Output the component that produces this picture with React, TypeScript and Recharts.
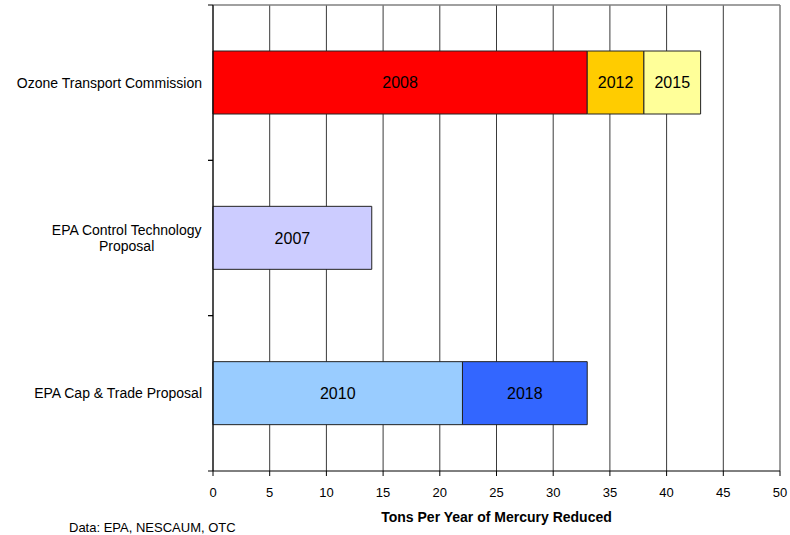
import React from 'react'
import { BarChart, Bar, XAxis, YAxis, CartesianGrid, LabelList, Cell } from 'recharts'

// programs compared, top to bottom
const programs = ['Ozone Transport Commission', 'EPA Control Technology Proposal', 'EPA Cap & Trade Proposal']

// first phase (tons/yr reduced) and its deadline year
const phase1Values = [33, 14, 22]
const phase1Years = ['2008', '2007', '2010']

// second phase increments
const phase2Values = [5, 0, 11]
const phase2Years = ['2012', '', '2018']

// third phase increments
const phase3Values = [5, 0, 0]
const phase3Years = ['2015', '', '']

const xTicks = [0, 5, 10, 15, 20, 25, 30, 35, 40, 45, 50]

const phase1Colors = ['#FF0000', '#CCCCFF', '#99CCFF']
const phase2Colors = ['#FFCC00', '#CCCCFF', '#3366FF']
const phase3Colors = ['#FFFF99', '#FFFF99', '#FFFF99']

const FONT = '"Liberation Sans", Arial, sans-serif'
const AXIS_X = 213

const data = programs.map((name, i) => ({
  name,
  p1: phase1Values[i],
  p1Year: phase1Years[i],
  p2: phase2Values[i],
  p2Year: phase2Years[i],
  p3: phase3Values[i],
  p3Year: phase3Years[i],
}))

let measureCtx: CanvasRenderingContext2D | null = null
const measure = (text: string, size: number) => {
  if (!measureCtx) measureCtx = document.createElement('canvas').getContext('2d')
  if (!measureCtx) return text.length * size * 0.5
  measureCtx.font = `${size}px ${FONT}`
  return measureCtx.measureText(text).width
}

const wrapLabel = (text: string, maxChars: number) => {
  const words = text.split(' ')
  const lines: string[] = []
  let current = ''
  words.forEach((w) => {
    const next = current ? `${current} ${w}` : w
    if (next.length > maxChars && current) {
      lines.push(current)
      current = w
    } else {
      current = next
    }
  })
  if (current) lines.push(current)
  return lines
}

const ProgramTick = (props: any) => {
  const { x, y, payload } = props
  const lines = wrapLabel(String(payload.value), 26)
  const size = 14
  const lineHeight = 16.5
  const widest = Math.max(...lines.map((l) => measure(l, size)))
  const cx = x - widest / 2
  const startY = y - ((lines.length - 1) * lineHeight) / 2
  const half = payload.offset || 155.3 / 2
  return (
    <g>
      <line x1={AXIS_X - 5} x2={AXIS_X} y1={y - half} y2={y - half} stroke="#000" />
      <line x1={AXIS_X - 5} x2={AXIS_X} y1={y + half} y2={y + half} stroke="#000" />
      {lines.map((line, i) => (
        <text
          key={i}
          x={lines.length > 1 ? cx : x}
          y={startY + i * lineHeight}
          dy="0.35em"
          textAnchor={lines.length > 1 ? 'middle' : 'end'}
          fontSize={size}
          fill="#000"
          fontFamily={FONT}
        >
          {line}
        </text>
      ))}
    </g>
  )
}

export default function App() {
  return (
    <div
      style={{
        position: 'absolute',
        left: 0,
        top: 0,
        width: 790,
        height: 535,
        background: '#fff',
        fontFamily: FONT,
      }}
    >
      <BarChart
        width={790}
        height={535}
        data={data}
        layout="vertical"
        margin={{ top: 4, right: 10, left: 0, bottom: 0 }}
        barSize={63}
      >
        <CartesianGrid horizontal={false} stroke="#3a3a3a" />
        <XAxis
          type="number"
          domain={[0, 50]}
          ticks={xTicks}
          interval={0}
          height={64}
          axisLine={{ stroke: '#000' }}
          tickLine={{ stroke: '#000' }}
          tickSize={5}
          tickMargin={12}
          tick={{ fontSize: 13, fill: '#000' }}
          label={{
            value: 'Tons Per Year of Mercury Reduced',
            position: 'insideBottom',
            offset: 13,
            style: { fontSize: 14, fontWeight: 'bold', fill: '#000' },
          }}
        />
        <XAxis
          xAxisId="top"
          orientation="top"
          type="number"
          domain={[0, 50]}
          ticks={[0, 50]}
          height={1}
          tick={false}
          tickLine={false}
          axisLine={{ stroke: '#808080', strokeWidth: 1.5 }}
        />
        <YAxis
          type="category"
          dataKey="name"
          width={AXIS_X}
          axisLine={{ stroke: '#000' }}
          tickLine={false}
          tickSize={5}
          tickMargin={6}
          interval={0}
          tick={<ProgramTick />}
        />
        <Bar dataKey="p1" stackId="a" stroke="#222" strokeWidth={1} isAnimationActive={false}>
          {data.map((_, i) => (
            <Cell key={`p1-${i}`} fill={phase1Colors[i]} />
          ))}
          <LabelList dataKey="p1Year" position="center" fill="#000" fontSize={16} />
        </Bar>
        <Bar dataKey="p2" stackId="a" stroke="#222" strokeWidth={1} isAnimationActive={false}>
          {data.map((_, i) => (
            <Cell key={`p2-${i}`} fill={phase2Colors[i]} />
          ))}
          <LabelList dataKey="p2Year" position="center" fill="#000" fontSize={16} />
        </Bar>
        <Bar dataKey="p3" stackId="a" stroke="#222" strokeWidth={1} isAnimationActive={false}>
          {data.map((_, i) => (
            <Cell key={`p3-${i}`} fill={phase3Colors[i]} />
          ))}
          <LabelList dataKey="p3Year" position="center" fill="#000" fontSize={16} />
        </Bar>
      </BarChart>
      <div
        style={{
          position: 'absolute',
          left: 69,
          top: 520,
          fontSize: 13,
          lineHeight: '15px',
          color: '#000',
          whiteSpace: 'nowrap',
        }}
      >
        Data: EPA, NESCAUM, OTC
      </div>
    </div>
  )
}
